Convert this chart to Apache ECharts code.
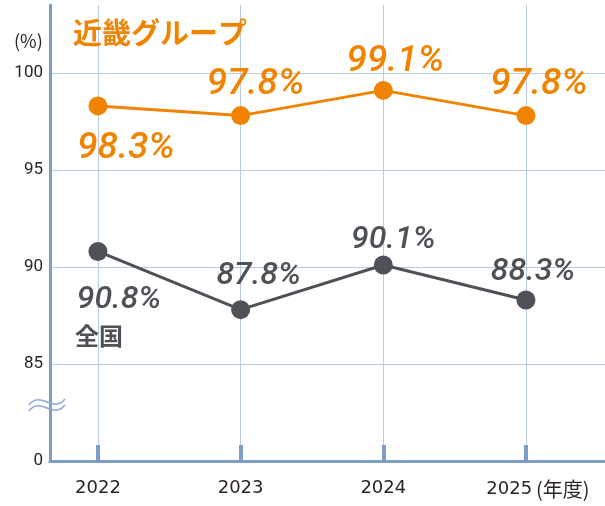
<!DOCTYPE html>
<html lang="ja">

<head>
    <meta charset="UTF-8">
    <title>近畿グループ / 全国</title>
    <script type="text/javascript" src="https://cdn.jsdelivr.net/npm/echarts@6/dist/echarts.min.js"></script>
    <style>
        html, body { margin: 0; padding: 0; background: #fff; }
    </style>
</head>

<body>
    <div id="main" style="width: 605px;height:506px;"></div>
    <script type="text/javascript">
    let myChart = echarts.init(document.getElementById('main'));

    // データ
    let years = [2022, 2023, 2024, 2025];
    let kinki = [98.3, 97.8, 99.1, 97.8];     // 近畿グループ
    let zenkoku = [90.8, 87.8, 90.1, 88.3];   // 全国
    let yTicks = [80, 85, 90, 95, 100];       // 80 は「0」と表示（軸の省略）

    // ラベルの位置（点の中心からのずれ）
    let kinkiOffsets = [[28, 43], [15, -31], [12, -29], [13, -31]];
    let zenkokuOffsets = [[21, 49], [18, -34], [10, -25], [7, -28]];

    let orange = '#f08300';
    let gray = '#4e5156';
    let axisBlue = '#7d9cc6';
    let gridBlue = '#b9cae3';
    let textColor = '#2b2523';

    function points(values, offsets) {
        return values.map(function(v, i) {
            return {
                value: [years[i], v],
                label: { offset: offsets[i] }
            };
        });
    }

    // 省略記号の波線
    function wave(dy) {
        return {
            type: 'bezierCurve',
            shape: { x1: 29, y1: 405 + dy, cpx1: 41, cpy1: 390 + dy, cpx2: 53, cpy2: 414 + dy, x2: 65, y2: 399 + dy },
            style: { fill: null, stroke: '#8eaad2', lineWidth: 1.5 },
            z: 10
        };
    }

    option = {
        animation: false,
        grid: {
            left: 50,
            right: 0,
            top: 5,
            bottom: 45
        },
        title: [{
            text: '近畿グループ',
            left: 73,
            top: 18,
            padding: 0,
            textStyle: { color: orange, fontSize: 29, fontWeight: 'bold', fontFamily: '"Noto Sans CJK JP"' }
        }, {
            text: '全国',
            left: 75,
            top: 324,
            padding: 0,
            textStyle: { color: gray, fontSize: 24, fontWeight: 'bold', fontFamily: '"Noto Sans CJK JP"' }
        }],
        graphic: [{
            type: 'text',
            left: 14,
            top: 32,
            style: { text: '(%)', fill: textColor, font: '18px "Noto Sans CJK JP"' }
        }, wave(0), wave(6)],
        xAxis: {
            type: 'value',
            min: 2021.664,
            max: 2025.554,
            axisLine: { lineStyle: { color: axisBlue, width: 3 } },
            axisTick: {
                inside: true,
                length: 16,
                customValues: years,
                lineStyle: { color: axisBlue, width: 4 }
            },
            axisLabel: {
                customValues: years,
                margin: 18,
                color: textColor,
                fontSize: 18,
                fontFamily: '"DejaVu Sans"',
                formatter: function(v) {
                    return v === 2025 ? '{p|2025}{u|(年度)}' : String(v);
                },
                rich: {
                    p: { fontSize: 18, color: textColor, fontFamily: '"DejaVu Sans"', padding: [0, 4, 0, 24] },
                    u: { fontSize: 20, color: textColor, fontFamily: '"Noto Sans CJK JP"' }
                }
            },
            splitLine: { show: true, lineStyle: { color: gridBlue, width: 1 } }
        },
        yAxis: {
            type: 'value',
            min: 80,
            max: 103.5,
            axisLine: { show: true, lineStyle: { color: axisBlue, width: 3 } },
            axisTick: { show: false, customValues: yTicks.slice(1) },
            axisLabel: {
                customValues: yTicks,
                margin: 7,
                color: textColor,
                fontSize: 17,
                fontFamily: 'Roboto',
                formatter: function(v) {
                    return v === 80 ? '0' : String(v);
                }
            },
            splitLine: { show: true, lineStyle: { color: gridBlue, width: 1 } }
        },
        series: [{
            name: '近畿グループ',
            type: 'line',
            data: points(kinki, kinkiOffsets),
            symbol: 'circle',
            symbolSize: 19,
            itemStyle: { color: orange },
            lineStyle: { color: orange, width: 3 },
            label: {
                show: true,
                position: 'inside',
                color: orange,
                fontSize: 37,
                fontStyle: 'italic',
                fontWeight: 500,
                fontFamily: 'Roboto',
                formatter: function(p) { return p.value[1].toFixed(1) + '%'; }
            }
        }, {
            name: '全国',
            type: 'line',
            data: points(zenkoku, zenkokuOffsets),
            symbol: 'circle',
            symbolSize: 19,
            itemStyle: { color: gray },
            lineStyle: { color: gray, width: 3 },
            label: {
                show: true,
                position: 'inside',
                color: gray,
                fontSize: 32,
                fontStyle: 'italic',
                fontWeight: 500,
                fontFamily: 'Roboto',
                formatter: function(p) { return p.value[1].toFixed(1) + '%'; }
            }
        }]
    };

    myChart.setOption(option);
    </script>
</body>

</html>
